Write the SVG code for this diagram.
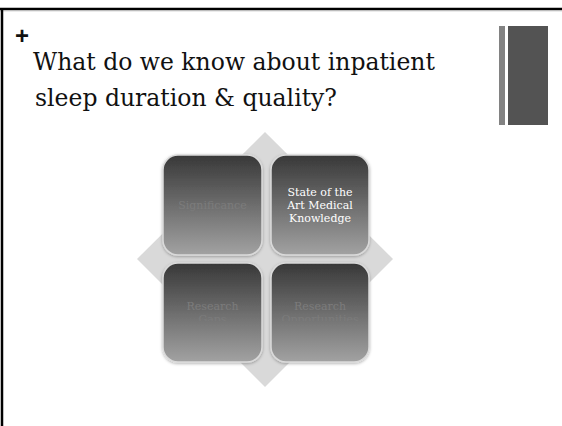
<svg xmlns="http://www.w3.org/2000/svg" width="562" height="426" viewBox="0 0 562 426">
  <defs>
    <linearGradient id="tileFill" x1="0" y1="0" x2="0" y2="1">
      <stop offset="0" stop-color="#383838"/>
      <stop offset="1" stop-color="#a2a2a2"/>
    </linearGradient>
    <filter id="tileShadow" x="-10%" y="-10%" width="120%" height="120%">
      <feDropShadow dx="0" dy="1" stdDeviation="1.5" flood-color="#000" flood-opacity="0.3"/>
    </filter>
    <clipPath id="clipGaps"><rect x="160" y="260" width="110" height="61"/></clipPath>
    <clipPath id="clipOpp"><rect x="265" y="260" width="110" height="61"/></clipPath>
  </defs>
  <style>
    .title { font-family: "DejaVu Serif", serif; font-size: 23.5px; fill: #111; }
    .tile { fill: url(#tileFill); stroke: #dadada; stroke-width: 1.5; filter: url(#tileShadow); }
    .lbl { font-family: "DejaVu Serif", serif; font-size: 11px; text-anchor: middle; }
    .dim { fill: #7c7c7c; }
    .lit { fill: #ffffff; }
  </style>

  <rect width="562" height="426" fill="#ffffff"/>

  <!-- slide frame -->
  <line x1="0" y1="9" x2="562" y2="9" stroke="#000" stroke-width="2.5"/>
  <line x1="0" y1="10.8" x2="562" y2="10.8" stroke="#bbb" stroke-width="1"/>
  <line x1="2" y1="8" x2="2" y2="426" stroke="#000" stroke-width="2.5"/>

  <!-- corner accent bars -->
  <rect x="499" y="26" width="6" height="99" fill="#828282"/>
  <rect x="508" y="26" width="40" height="99" fill="#535353"/>

  <!-- heading -->
  <text x="15" y="44" font-family="'Liberation Sans', sans-serif" font-weight="bold" font-size="24px" fill="#111">+</text>
  <text class="title" x="33" y="70">What do we know about inpatient</text>
  <text class="title" x="35" y="106">sleep duration &amp; quality?</text>

  <!-- background diamond -->
  <g id="diamond">
    <polygon points="265,132 393,259 265,387 137,259" fill="#d9d9d9"/>
  </g>

  <g id="significance">
    <rect class="tile" x="163" y="155" width="99" height="100" rx="15"/>
    <text class="lbl dim" x="212.5" y="209">Significance</text>
  </g>

  <g id="state-of-the-art">
    <rect class="tile" x="271" y="155" width="98" height="100" rx="15"/>
    <text class="lbl lit" x="320" y="196">State of the</text>
    <text class="lbl lit" x="320" y="209">Art Medical</text>
    <text class="lbl lit" x="320" y="222">Knowledge</text>
  </g>

  <g id="research-gaps">
    <rect class="tile" x="163" y="263" width="99" height="99" rx="15"/>
    <text class="lbl dim" x="212.5" y="310">Research</text>
    <text class="lbl dim" x="212.5" y="323" clip-path="url(#clipGaps)">Gaps</text>
  </g>

  <g id="research-opportunities">
    <rect class="tile" x="271" y="263" width="98" height="99" rx="15"/>
    <text class="lbl dim" x="320" y="310">Research</text>
    <text class="lbl dim" x="320" y="323" clip-path="url(#clipOpp)">Opportunities</text>
  </g>
</svg>
